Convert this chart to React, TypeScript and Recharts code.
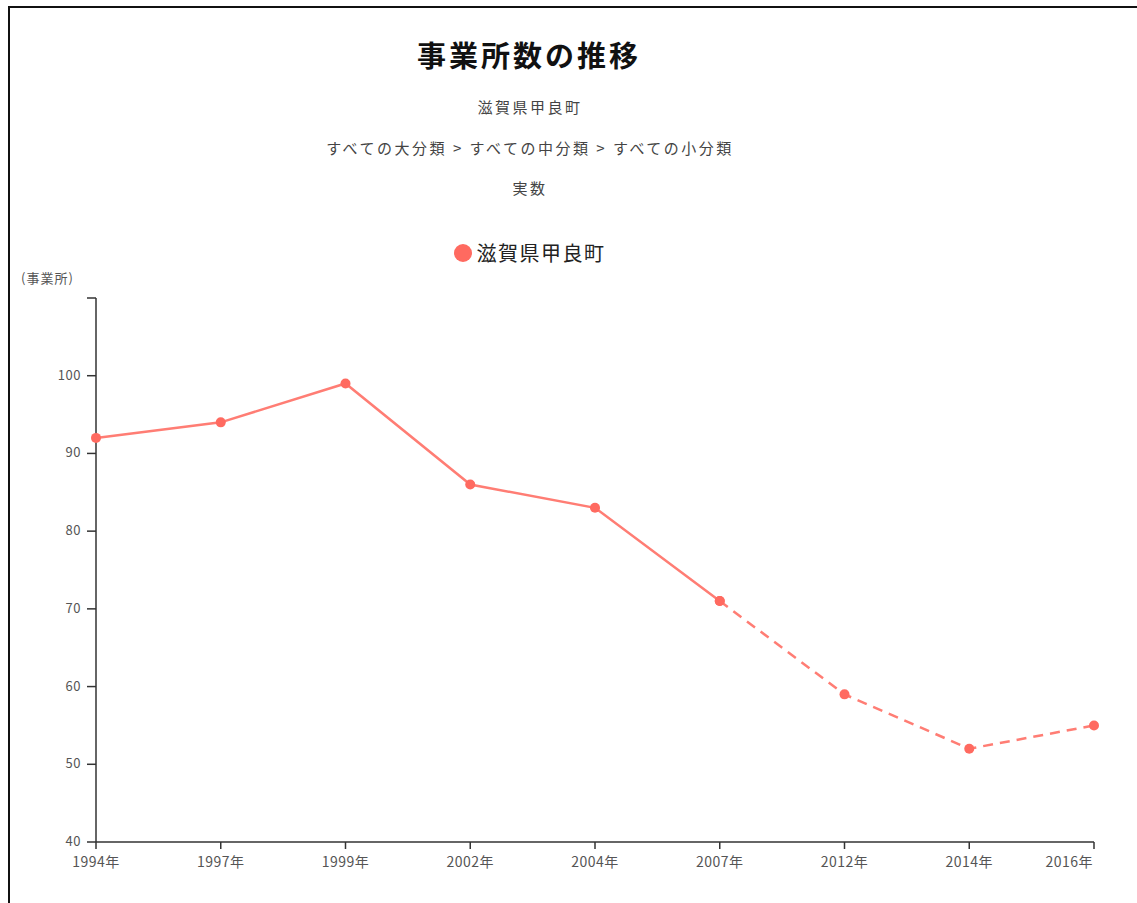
import { LineChart, Line, XAxis, YAxis, Legend } from "recharts";

const YEARS = ["1994年", "1997年", "1999年", "2002年", "2004年", "2007年", "2012年", "2014年", "2016年"];
const COUNTS = [92, 94, 99, 86, 83, 71, 59, 52, 55];
// index of the last actual (solid) point; after it the line is dashed
const SOLID_END = 5;
const Y_TICKS = [40, 50, 60, 70, 80, 90, 100, 110];

const TITLE = "事業所数の推移";
const SUBTITLES = ["滋賀県甲良町", "すべての大分類 > すべての中分類 > すべての小分類", "実数"];
const SERIES_NAME = "滋賀県甲良町";
const UNIT = "(事業所)";

const FONT = '"Noto Sans CJK JP", "Noto Sans", sans-serif';
const LINE_COLOR = "#ff7d74";
const DOT_COLOR = "#ff6a60";

const data = YEARS.map((year, i) => ({
  year,
  actual: i <= SOLID_END ? COUNTS[i] : null,
  estimate: i >= SOLID_END ? COUNTS[i] : null,
}));

function YTick(props: any) {
  const { x, y, payload } = props;
  if (payload.value === 110) return null;
  return (
    <text x={x} y={y} dy={4} textAnchor="end" fill="#555" fontSize={13} letterSpacing={0.5} fontFamily={FONT}>
      {payload.value}
    </text>
  );
}

function XTick(props: any) {
  const { x, y, payload, index } = props;
  // last label is pulled inside the plot so it doesn't run off the edge
  const last = index === YEARS.length - 1;
  return (
    <text
      x={last ? x - 1 : x}
      y={y}
      dy={16}
      textAnchor={last ? "end" : "middle"}
      fill="#555"
      fontSize={14}
      letterSpacing={0.5}
      fontFamily={FONT}
    >
      {payload.value}
    </text>
  );
}

function LegendContent() {
  return (
    <div style={{ display: "flex", justifyContent: "center", alignItems: "center", fontFamily: FONT }}>
      <svg width={20} height={20} style={{ marginRight: 4 }}>
        <circle cx={10} cy={10} r={9} fill={DOT_COLOR} />
      </svg>
      <span style={{ fontSize: 20, letterSpacing: 1.5, color: "#222" }}>{SERIES_NAME}</span>
    </div>
  );
}

export default function App() {
  return (
    <div style={{ position: "absolute", left: 0, top: 0, width: 1137, height: 903, overflow: "hidden", background: "#fff" }}>
      <div
        style={{
          position: "absolute",
          left: 8,
          top: 6,
          width: 1129,
          height: 897,
          borderTop: "2px solid #111",
          borderLeft: "2px solid #111",
        }}
      />
      <div
        style={{
          position: "absolute",
          left: 0,
          top: 37,
          width: 1058,
          textAlign: "center",
          fontFamily: FONT,
          fontWeight: 700,
          fontSize: 29,
          letterSpacing: 3,
          lineHeight: "34px",
          color: "#111",
        }}
      >
        {TITLE}
      </div>
      {SUBTITLES.map((s, i) => (
        <div
          key={s}
          style={{
            position: "absolute",
            left: 0,
            top: 97 + i * 40.5,
            width: 1060,
            textAlign: "center",
            fontFamily: FONT,
            fontSize: 15,
            letterSpacing: 2.5,
            lineHeight: "20px",
            color: "#444",
          }}
        >
          {s}
        </div>
      ))}
      <div
        style={{
          position: "absolute",
          left: 21,
          top: 269,
          fontFamily: FONT,
          fontSize: 13,
          letterSpacing: 1,
          lineHeight: "18px",
          color: "#555",
        }}
      >
        {UNIT}
      </div>
      <div style={{ position: "absolute", left: 0, top: 0 }}>
        <LineChart width={1137} height={903} data={data} margin={{ top: 298, right: 43, bottom: 31, left: 36 }}>
          <XAxis
            dataKey="year"
            padding={{ left: 0, right: 0 }}
            stroke="#333"
            strokeWidth={1.5}
            tickSize={7}
            tickMargin={2}
            tick={<XTick />}
            interval={0}
          />
          <YAxis
            width={60}
            domain={[40, 110]}
            ticks={Y_TICKS}
            stroke="#333"
            strokeWidth={1.5}
            tickSize={9}
            tickMargin={6}
            tick={<YTick />}
            interval={0}
          />
          <Legend
            verticalAlign="middle"
            align="center"
            wrapperStyle={{ top: 238, left: 0, width: 1058 }}
            content={<LegendContent />}
          />
          <Line
            dataKey="actual"
            name={SERIES_NAME}
            stroke={LINE_COLOR}
            strokeWidth={2.5}
            dot={{ r: 5, fill: DOT_COLOR, stroke: "none" }}
            activeDot={false}
            connectNulls={false}
            isAnimationActive={false}
          />
          <Line
            dataKey="estimate"
            name={SERIES_NAME + " (推計)"}
            legendType="none"
            stroke={LINE_COLOR}
            strokeWidth={2.5}
            strokeDasharray="10 7"
            dot={{ r: 5, fill: DOT_COLOR, stroke: "none" }}
            activeDot={false}
            connectNulls={false}
            isAnimationActive={false}
          />
        </LineChart>
      </div>
    </div>
  );
}
